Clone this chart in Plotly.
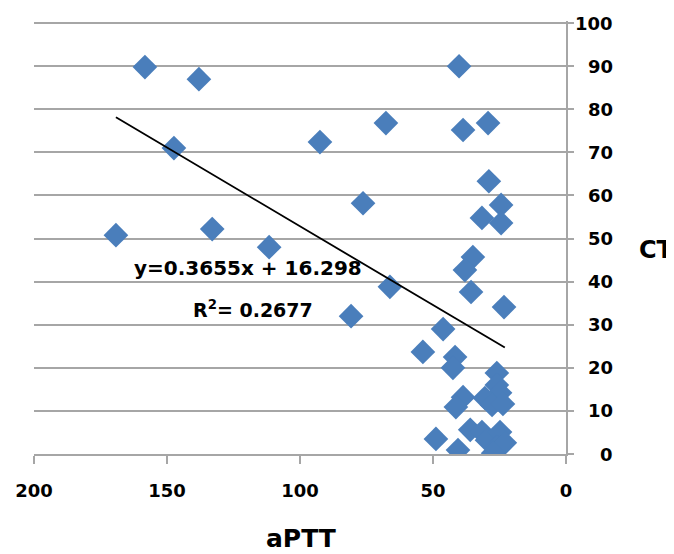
import plotly.graph_objects as go

# Data
aptt = [158.3, 138.0, 169.2, 147.4, 133.0, 111.6, 92.5, 67.7, 76.3, 80.8, 66.2,
        40.2, 38.7, 29.3, 29.0, 24.4, 31.6, 24.4, 35.0, 38.0, 35.7, 23.3,
        46.2, 53.8, 41.7, 42.5, 26.0, 26.0, 24.8, 38.7, 41.4, 30.5, 27.8, 23.7,
        48.9, 40.6, 36.0, 31.6, 29.7, 24.8, 26.0, 23.0, 27.4]
ct = [89.8, 87.0, 50.8, 71.0, 52.2, 48.0, 72.4, 76.8, 58.2, 32.0, 38.8,
      90.0, 75.2, 76.8, 63.3, 57.8, 54.8, 53.6, 45.7, 42.7, 37.6, 34.1,
      29.0, 23.7, 22.5, 20.0, 18.8, 16.0, 14.2, 13.2, 10.9, 13.0, 11.4, 11.6,
      3.5, 0.9, 5.6, 5.1, 3.2, 5.1, 1.6, 2.6, 0.2]

slope = 0.3655
intercept = 16.298
r2 = 0.2677

x_ticks = [200, 150, 100, 50, 0]
y_ticks = [0, 10, 20, 30, 40, 50, 60, 70, 80, 90, 100]

FONT = "DejaVu Sans"
GRID = "#a6a6a6"

fig = go.Figure()

fig.add_trace(go.Scatter(
    x=aptt, y=ct, mode="markers",
    marker=dict(symbol="diamond", size=19, color="#4A7EBB", line=dict(width=0)),
    showlegend=False, hoverinfo="x+y",
))

xmin, xmax = min(aptt), max(aptt)
fig.add_trace(go.Scatter(
    x=[xmax, xmin], y=[slope * xmax + intercept, slope * xmin + intercept],
    mode="lines", line=dict(color="black", width=1.8), showlegend=False,
    hoverinfo="skip",
))

annotations = []
for v in y_ticks:
    annotations.append(dict(
        x=1.0925, xref="paper", y=v, yref="y", text=str(v), showarrow=False,
        xanchor="right", yanchor="middle",
        font=dict(family=FONT, size=18, weight="bold", color="black"),
    ))

annotations.append(dict(
    x=119.5, xref="x", y=43.1, yref="y",
    text="y=0.3655x + 16.298", showarrow=False, xanchor="center", yanchor="middle",
    font=dict(family=FONT, size=20, weight="bold", color="black"),
))
annotations.append(dict(
    x=117.7, xref="x", y=33.6, yref="y",
    text=f"R<sup>2</sup>= {r2}", showarrow=False, xanchor="center", yanchor="middle",
    font=dict(family=FONT, size=19, weight="bold", color="black"),
))
annotations.append(dict(
    x=0.502, xref="paper", y=-0.196, yref="paper", text="aPTT", showarrow=False,
    xanchor="center", yanchor="middle",
    font=dict(family=FONT, size=25, weight="bold", color="black"),
))
annotations.append(dict(
    x=1.1692, xref="paper", y=0.47, yref="paper", text="CT", showarrow=False,
    xanchor="center", yanchor="middle",
    font=dict(family=FONT, size=24, weight="bold", color="black"),
))

fig.update_layout(
    width=666, height=546,
    margin=dict(l=26, r=108, t=13, b=100, autoexpand=False),
    paper_bgcolor="white", plot_bgcolor="white",
    annotations=annotations,
    xaxis=dict(
        range=[200, 0], tickvals=x_ticks, ticktext=[str(v) for v in x_ticks],
        showgrid=False, zeroline=False, showline=True, linecolor=GRID, linewidth=2,
        ticks="outside", ticklen=8, tickwidth=2, tickcolor=GRID,
        ticklabelstandoff=11, automargin=False,
        tickfont=dict(family=FONT, size=18, weight="bold", color="black"),
    ),
    yaxis=dict(
        range=[0, 100.5], side="right", tickvals=y_ticks, showticklabels=False,
        showgrid=True, gridcolor=GRID, gridwidth=2, zeroline=False,
        showline=True, linecolor=GRID, linewidth=2, automargin=False,
        ticks="outside", ticklen=6, tickwidth=2, tickcolor=GRID,
    ),
)

fig.write_html("out.html")
